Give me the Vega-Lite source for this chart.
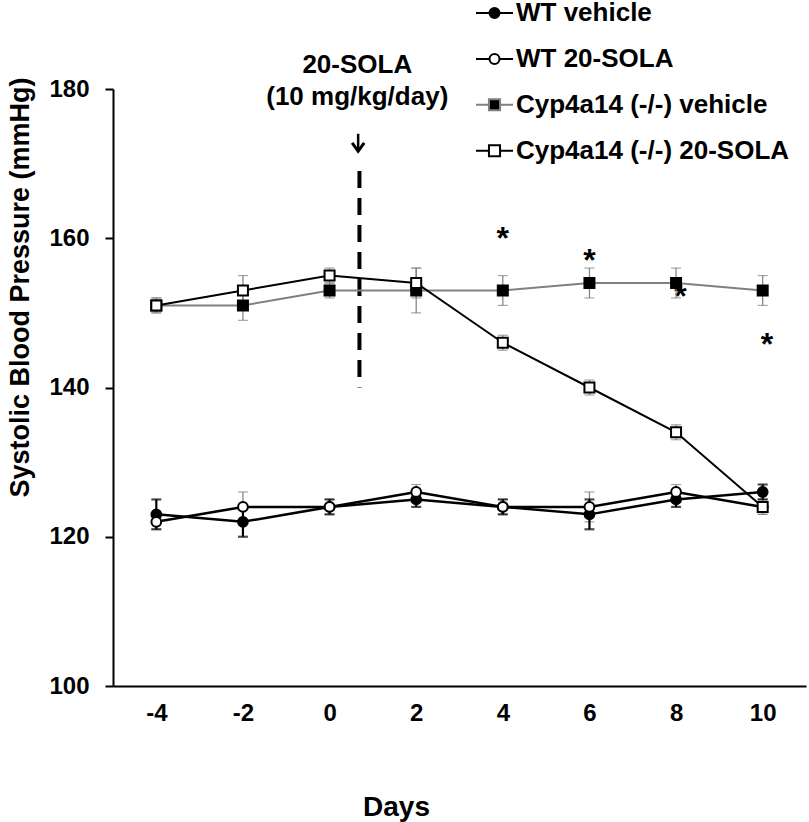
{
  "$schema": "https://vega.github.io/schema/vega-lite/v6.json",
  "width": 693,
  "height": 597,
  "autosize": "none",
  "padding": {"left": 113, "top": 89, "right": 3, "bottom": 136},
  "background": "white",
  "config": {"view": {"stroke": null}},
  "datasets": {
    "bp": [
      {"day": -4, "series": "WT vehicle", "bp": 123, "err": 2},
      {"day": -2, "series": "WT vehicle", "bp": 122, "err": 2},
      {"day": 0, "series": "WT vehicle", "bp": 124, "err": 1},
      {"day": 2, "series": "WT vehicle", "bp": 125, "err": 1},
      {"day": 4, "series": "WT vehicle", "bp": 124, "err": 1},
      {"day": 6, "series": "WT vehicle", "bp": 123, "err": 2},
      {"day": 8, "series": "WT vehicle", "bp": 125, "err": 1},
      {"day": 10, "series": "WT vehicle", "bp": 126, "err": 1},
      {"day": -4, "series": "WT 20-SOLA", "bp": 122, "err": 1},
      {"day": -2, "series": "WT 20-SOLA", "bp": 124, "err": 2},
      {"day": 0, "series": "WT 20-SOLA", "bp": 124, "err": 1},
      {"day": 2, "series": "WT 20-SOLA", "bp": 126, "err": 1},
      {"day": 4, "series": "WT 20-SOLA", "bp": 124, "err": 1},
      {"day": 6, "series": "WT 20-SOLA", "bp": 124, "err": 2},
      {"day": 8, "series": "WT 20-SOLA", "bp": 126, "err": 1},
      {"day": 10, "series": "WT 20-SOLA", "bp": 124, "err": 1},
      {"day": -4, "series": "Cyp4a14 (-/-) vehicle", "bp": 151, "err": 1},
      {"day": -2, "series": "Cyp4a14 (-/-) vehicle", "bp": 151, "err": 2},
      {"day": 0, "series": "Cyp4a14 (-/-) vehicle", "bp": 153, "err": 1},
      {"day": 2, "series": "Cyp4a14 (-/-) vehicle", "bp": 153, "err": 3},
      {"day": 4, "series": "Cyp4a14 (-/-) vehicle", "bp": 153, "err": 2},
      {"day": 6, "series": "Cyp4a14 (-/-) vehicle", "bp": 154, "err": 2},
      {"day": 8, "series": "Cyp4a14 (-/-) vehicle", "bp": 154, "err": 2},
      {"day": 10, "series": "Cyp4a14 (-/-) vehicle", "bp": 153, "err": 2},
      {"day": -4, "series": "Cyp4a14 (-/-) 20-SOLA", "bp": 151, "err": 1},
      {"day": -2, "series": "Cyp4a14 (-/-) 20-SOLA", "bp": 153, "err": 2},
      {"day": 0, "series": "Cyp4a14 (-/-) 20-SOLA", "bp": 155, "err": 1},
      {"day": 2, "series": "Cyp4a14 (-/-) 20-SOLA", "bp": 154, "err": 2},
      {"day": 4, "series": "Cyp4a14 (-/-) 20-SOLA", "bp": 146, "err": 1},
      {"day": 6, "series": "Cyp4a14 (-/-) 20-SOLA", "bp": 140, "err": 1},
      {"day": 8, "series": "Cyp4a14 (-/-) 20-SOLA", "bp": 134, "err": 1},
      {"day": 10, "series": "Cyp4a14 (-/-) 20-SOLA", "bp": 124, "err": 1}
    ],
    "notes": [
      {"day": 0.64, "bp": 183.2, "text": "20-SOLA"},
      {"day": 0.64, "bp": 178.9, "text": "(10 mg/kg/day)"}
    ],
    "arrow": [{"day": 0.66, "bp": 174.0, "bp2": 171.7, "head": 172.3}],
    "dash": [{"day": 0.69, "bp": 169, "bp2": 140}],
    "stars": [
      {"day": 4, "bp": 161.1},
      {"day": 6, "bp": 158.2},
      {"day": 8.1, "bp": 153.3},
      {"day": 10.1, "bp": 146.9}
    ],
    "xticks": [
      {"day": -4}, {"day": -2}, {"day": 0}, {"day": 2}, {"day": 4},
      {"day": 6}, {"day": 8}, {"day": 10}, {"day": 11}
    ]
  },
  "encoding": {
    "x": {
      "field": "day",
      "type": "quantitative",
      "scale": {"domain": [-5, 11], "nice": false, "zero": false},
      "axis": {
        "values": [-4, -2, 0, 2, 4, 6, 8, 10],
        "labelExpr": "datum.value + ''",
        "ticks": false,
        "grid": false,
        "domainColor": "black",
        "domainWidth": 2,
        "labelFont": "Liberation Sans",
        "labelFontSize": 24,
        "labelFontWeight": "bold",
        "labelColor": "black",
        "labelPadding": 15,
        "labelFlush": false,
        "labelOverlap": false,
        "title": "Days",
        "titleFont": "Liberation Sans",
        "titleFontSize": 28,
        "titleFontWeight": "bold",
        "titleColor": "black",
        "titleX": 283,
        "titleY": 121,
        "titleAlign": "center",
        "titleBaseline": "middle"
      }
    },
    "y": {
      "field": "bp",
      "type": "quantitative",
      "scale": {"domain": [100, 180], "nice": false, "zero": false},
      "axis": {
        "values": [100, 120, 140, 160, 180],
        "grid": false,
        "tickSize": 8,
        "tickWidth": 2,
        "tickColor": "black",
        "domainColor": "black",
        "domainWidth": 2,
        "labelFont": "Liberation Sans",
        "labelFontSize": 24,
        "labelFontWeight": "bold",
        "labelColor": "black",
        "labelPadding": 16,
        "labelOverlap": false,
        "title": "Systolic Blood Pressure (mmHg)",
        "titleFont": "Liberation Sans",
        "titleFontSize": 27,
        "titleFontWeight": "bold",
        "titleColor": "black",
        "titleX": -93,
        "titleY": 198,
        "titleAngle": 270,
        "titleAlign": "center",
        "titleBaseline": "middle"
      }
    }
  },
  "layer": [
    {
      "data": {"name": "xticks"},
      "mark": {"type": "tick", "orient": "vertical", "size": 12, "thickness": 2, "color": "black"},
      "encoding": {"y": {"datum": 100}}
    },
    {
      "data": {"name": "dash"},
      "mark": {"type": "rule", "color": "black", "strokeWidth": 4, "strokeDash": [17, 10]},
      "encoding": {"y2": {"field": "bp2"}}
    },
    {
      "data": {"name": "arrow"},
      "mark": {"type": "rule", "color": "black", "strokeWidth": 2.5},
      "encoding": {"y2": {"field": "bp2"}}
    },
    {
      "data": {"name": "arrow"},
      "mark": {"type": "point", "shape": "M-1,-0.6L0,0.8L1,-0.6", "size": 144, "filled": false, "stroke": "black", "strokeWidth": 3, "opacity": 1},
      "encoding": {"y": {"field": "head", "type": "quantitative"}}
    },
    {
      "data": {"name": "notes"},
      "mark": {"type": "text", "font": "Liberation Sans", "fontSize": 26, "fontWeight": "bold", "color": "black", "align": "center", "baseline": "middle"},
      "encoding": {"text": {"field": "text"}}
    },
    {
      "data": {"name": "stars"},
      "mark": {"type": "text", "text": "*", "font": "Liberation Sans", "fontSize": 32, "fontWeight": "bold", "color": "black", "align": "center", "baseline": "middle", "dy": 9}
    },
    {
      "data": {"name": "bp"},
      "transform": [{"filter": "datum.series !== 'WT vehicle'"}],
      "mark": {"type": "errorbar", "ticks": true, "size": 10, "thickness": 1.2, "color": "#7f7f7f"},
      "encoding": {"yError": {"field": "err"}}
    },
    {
      "data": {"name": "bp"},
      "transform": [{"filter": "datum.series === 'WT vehicle'"}],
      "mark": {"type": "errorbar", "ticks": true, "size": 10, "thickness": 2.2, "color": "black"},
      "encoding": {"yError": {"field": "err"}}
    },
    {
      "data": {"name": "bp"},
      "transform": [{"filter": "datum.series === 'WT vehicle' || datum.series === 'WT 20-SOLA'"}],
      "mark": {"type": "line", "color": "black", "strokeWidth": 2.5},
      "encoding": {"detail": {"field": "series", "type": "nominal"}}
    },
    {
      "data": {"name": "bp"},
      "transform": [{"filter": "datum.series === 'WT vehicle' || datum.series === 'WT 20-SOLA'"}],
      "mark": {"type": "point", "shape": "circle", "filled": true, "stroke": "black", "strokeWidth": 2, "opacity": 1, "size": 95},
      "encoding": {
        "fill": {"field": "series", "type": "nominal"}
      }
    },
    {
      "data": {"name": "bp"},
      "transform": [{"filter": "datum.series === 'Cyp4a14 (-/-) vehicle'"}],
      "mark": {"type": "line", "color": "#808080", "strokeWidth": 2}
    },
    {
      "data": {"name": "bp"},
      "transform": [{"filter": "datum.series === 'Cyp4a14 (-/-) 20-SOLA'"}],
      "mark": {"type": "line", "color": "black", "strokeWidth": 2}
    },
    {
      "data": {"name": "bp"},
      "transform": [{"filter": "datum.series === 'Cyp4a14 (-/-) vehicle' || datum.series === 'Cyp4a14 (-/-) 20-SOLA'"}],
      "mark": {"type": "point", "shape": "square", "filled": true, "stroke": "black", "strokeWidth": 2, "opacity": 1, "size": 100},
      "encoding": {
        "fill": {"field": "series", "type": "nominal"}
      }
    },
    {
      "data": {"name": "bp"},
      "mark": {"type": "point", "filled": true, "strokeWidth": 2, "size": 0},
      "encoding": {
        "shape": {
          "field": "series",
          "type": "nominal",
          "scale": {
            "domain": ["WT vehicle", "WT 20-SOLA", "Cyp4a14 (-/-) vehicle", "Cyp4a14 (-/-) 20-SOLA"],
            "range": [
              "M-1,0L-0.27,0M0.27,0L1,0M-0.27,0A0.27,0.27,0,1,1,0.27,0A0.27,0.27,0,1,1,-0.27,0Z",
              "M-1,0L-0.27,0M0.27,0L1,0M-0.27,0A0.27,0.27,0,1,1,0.27,0A0.27,0.27,0,1,1,-0.27,0Z",
              "M-1,0L-0.3,0M0.3,0L1,0M-0.3,-0.3L0.3,-0.3L0.3,0.3L-0.3,0.3Z",
              "M-1,0L-0.3,0M0.3,0L1,0M-0.3,-0.3L0.3,-0.3L0.3,0.3L-0.3,0.3Z"
            ]
          },
          "legend": {
            "title": null,
            "orient": "none",
            "legendX": 362,
            "legendY": -95.5,
            "padding": 0,
            "symbolSize": 1369,
            "symbolStrokeWidth": 2,
            "symbolOpacity": 1,
            "labelFont": "Liberation Sans",
            "labelFontSize": 26,
            "labelFontWeight": "bold",
            "labelColor": "black",
            "labelOffset": 2,
            "labelLimit": 500,
            "rowPadding": 12.9
          }
        },
        "fill": {
          "field": "series",
          "type": "nominal",
          "scale": {
            "domain": ["WT vehicle", "WT 20-SOLA", "Cyp4a14 (-/-) vehicle", "Cyp4a14 (-/-) 20-SOLA"],
            "range": ["black", "white", "black", "white"]
          }
        },
        "stroke": {
          "field": "series",
          "type": "nominal",
          "scale": {
            "domain": ["WT vehicle", "WT 20-SOLA", "Cyp4a14 (-/-) vehicle", "Cyp4a14 (-/-) 20-SOLA"],
            "range": ["black", "black", "#808080", "black"]
          }
        }
      }
    }
  ]
}
